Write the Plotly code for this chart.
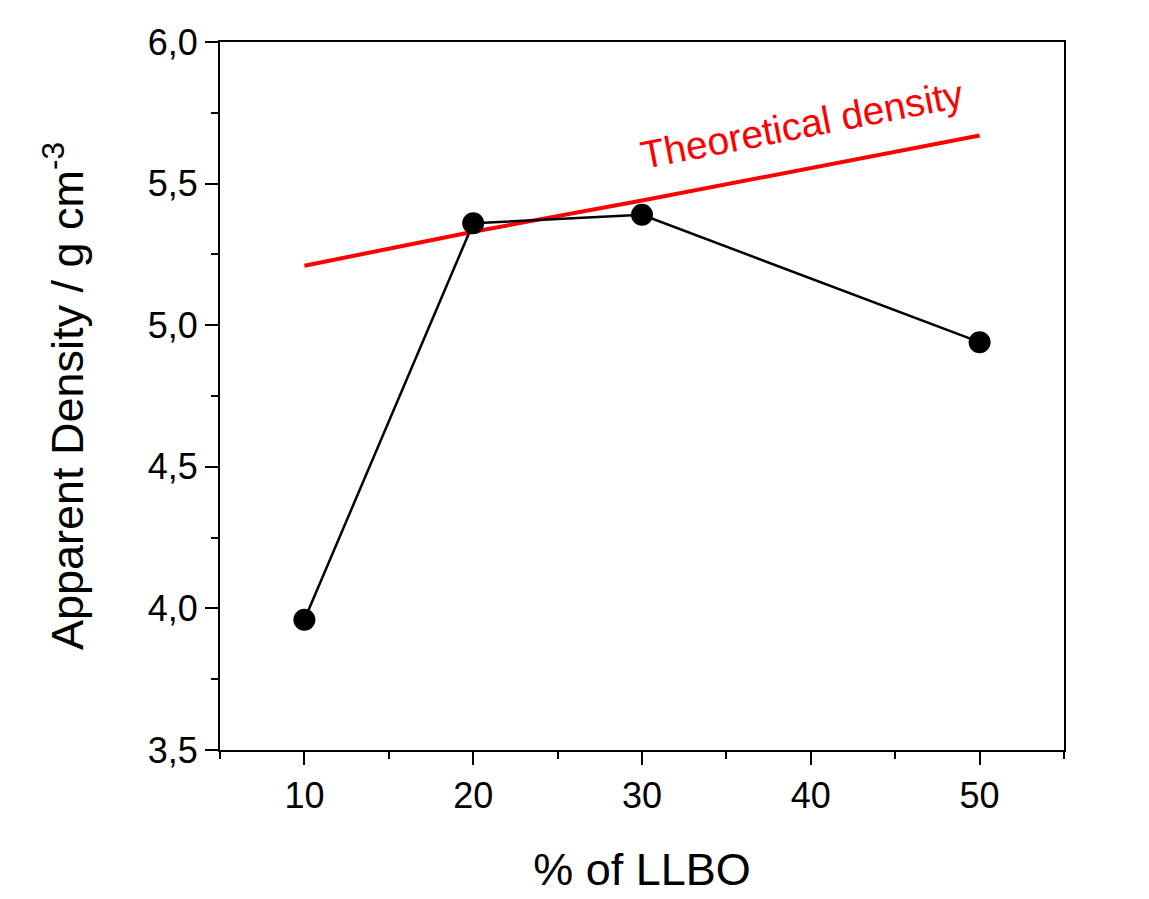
import plotly.graph_objects as go

# LLBO content (%) and measured apparent density
llbo_pct = [10, 20, 30, 50]
apparent_density = [3.96, 5.36, 5.39, 4.94]

# Theoretical density for the same compositions
theoretical_density = [5.21, 5.33, 5.44, 5.67]

font_family = "Arial, Liberation Sans, sans-serif"

fig = go.Figure()

fig.add_trace(go.Scatter(
    x=llbo_pct, y=theoretical_density,
    mode="lines",
    line=dict(color="#ff0000", width=4),
    showlegend=False,
))

fig.add_trace(go.Scatter(
    x=llbo_pct, y=apparent_density,
    mode="lines+markers",
    line=dict(color="black", width=2.5),
    marker=dict(color="black", size=22),
    showlegend=False,
))

fig.add_annotation(
    x=39.5, y=5.71, xref="x", yref="y",
    text="Theoretical density",
    showarrow=False,
    textangle=-11,
    font=dict(family=font_family, size=39, color="#ff0000"),
    xanchor="center", yanchor="middle",
)

axis_common = dict(
    showline=True, linecolor="black", linewidth=2, mirror=True,
    ticks="outside", ticklen=13, tickwidth=2, tickcolor="black",
    showgrid=False, zeroline=False,
    tickfont=dict(family=font_family, size=36, color="black"),
)

fig.update_xaxes(
    range=[5, 55], tick0=0, dtick=10,
    minor=dict(ticks="outside", ticklen=7, tickwidth=2, tickcolor="black", dtick=5, tick0=0),
    title=dict(text="% of LLBO", font=dict(family=font_family, size=45, color="black"), standoff=38),
    **axis_common,
)

fig.update_yaxes(
    range=[3.5, 6.0], tick0=3.5, dtick=0.5, tickformat=".1f",
    minor=dict(ticks="outside", ticklen=7, tickwidth=2, tickcolor="black", dtick=0.25, tick0=3.5),
    title=dict(text="Apparent Density / g cm<sup>-3</sup>",
               font=dict(family=font_family, size=45, color="black"), standoff=50),
    **axis_common,
)

fig.update_layout(
    width=1149, height=899,
    margin=dict(l=220, r=85, t=42, b=149, autoexpand=False),
    paper_bgcolor="white", plot_bgcolor="white",
    separators=",.",
)

fig.write_html("out.html")
